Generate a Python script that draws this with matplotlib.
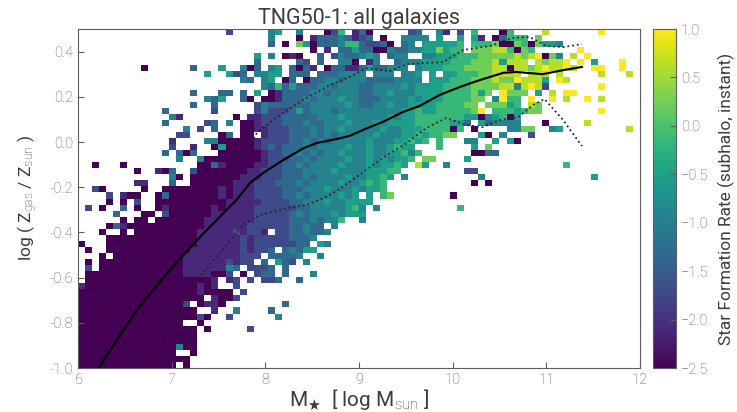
import numpy as np
import matplotlib
matplotlib.use('Agg')
import matplotlib.pyplot as plt

plt.rcParams['font.family'] = ['Roboto', 'DejaVu Sans']
plt.rcParams['font.weight'] = 'light'
plt.rcParams['mathtext.fontset'] = 'custom'
plt.rcParams['mathtext.rm'] = 'Roboto:light'
plt.rcParams['mathtext.default'] = 'rm'

# colour level of each character in the grid rows below
sfr_levels = [-2.5, -2.11, -1.72, -1.33, -0.94, -0.55, -0.16, 0.23, 0.62, 1.0]

# one string per row, top row first, '.' means no galaxies in that cell
grid_rows = [
    ".......... .......... .2.....45. .4...026.1 30.....23. .41.2.6... 06....8... ....9.....",
    ".......... .......... .......4.. .0.1333431 23.0..4444 .5..5.51.0 3666.7.... ..........",
    ".......... .......... .......3.0 .750333466 32230.34.5 55556.6667 007607554. ..........",
    ".......... .......... .......... ...0.1.335 3300433445 57566.7778 86076..... .9........",
    ".......... .......... .....5.4.0 10..3.2433 454.344..4 4555666777 778789074. 8.9.......",
    ".......... .......... .....3.... .32.3..440 .14..34445 5556667778 5888.87889 .9.5...9..",
    ".........0 ......3... 5..403.45. 3031.03311 3533444.45 5566677778 8088789889 8..99..9..",
    ".......... ........5. .523.4455. 333.333444 4.444.445. 5.55666778 888.888.8. ....8...8.",
    ".......... .......... ...43.45.0 3.03344344 433334444. 5556667778 7798885.98 ..........",
    ".......... .......... ......4363 5333443444 3344445455 5566667777 8848982... ....9.....",
    ".......... ......3... 33.3.5.013 3334434444 3344544455 556666757. 9777.5.8.9 9.........",
    ".......... ........43 5..30.0013 3343444544 3334444545 55666677.4 966.9..9.8 ..9.8.....",
    ".......... ......3..3 .....24333 3334444454 3344544555 5666677.77 756.87.... ..........",
    ".......... ..3......2 .....24222 3534443444 4444445565 56666679.6 665677.... ....9.....",
    ".......... ...41..... ..0.112223 3333444544 4444545566 6666655045 605....... ..........",
    ".......... ..3.....23 .4.0012223 3343344454 4454555566 666553.534 444...0... ..8.......",
    ".......... .....4.2.3 ...0011222 3334344544 4445445556 66606.0... .4477..45. ........8.",
    ".......... ....22.... 03.00.1222 3334343444 4454445565 6677...50. 4...2..... ..........",
    ".......... ...1....44 0000012222 3343434444 4544455656 .6...44..5 .50....... ..........",
    ".......... ...2..1..0 5000012323 3343444454 45445655.. .6....5.7. .......... ..........",
    ".......... ..3.303... 0000001223 3434344544 454455646. ......0033 .......... ..........",
    ".......... ....4..400 0000001222 3343444454 45454556.7 7....5.... .......... ..........",
    "..0...0... .......003 1000011223 3434444544 4545565.85 ..4....... .........6 ..........",
    "........0. .103..2000 0000112223 3344445444 455566.... .....22... .......... ..........",
    ".......... ...40.0000 0001112223 3343444454 45565.4... .......4.. .......... ...5......",
    "........11 ...3..0000 0011122233 3434444544 5656...... ......0.0. .......... ..........",
    "..20.....0 ..00000000 1011122223 3344454445 4556...... .......... .......... ..........",
    "....2.100. .030000000 1011122223 3434444545 .5.67..... ...0...... .......... ..........",
    "....0.0.2. .000000000 0111112222 3344454455 55........ .......... .......... ..........",
    ".2.0..3.0. .010000001 0111122222 2334444456 4.4....... ....6..... .......... ..........",
    ".....3...0 0.20000001 1111122222 3434445455 5......... .......... .......... ..........",
    "......0.00 .000000011 1111122222 33343446.. 4......... .......... .......... ..........",
    "....031000 0000000011 1111222222 33433.4... .......... .......... .......... ..........",
    "...0..0.00 0000000111 1121221.22 334334.... .......... .......... .......... ..........",
    "....000000 0000000111 1112122222 3334...... .......... .......... .......... ..........",
    "0...000000 0000000111 1112122222 233.54.... .......... .......... .......... ..........",
    ".0..000000 0000001111 11121223.3 4355...... .......... .......... .......... ..........",
    "...0.00000 0000011111 111222.333 34..4..... .......... .......... .......... ..........",
    ".0.0000000 0000011111 12122.3.53 2.4....... .......... .......... .......... ..........",
    ".2.0000000 0000011111 143.2223.3 .......... .......... .......... .......... ..........",
    ".000000000 0000011110 02.0.233.3 ...4...... .......... .......... .......... ..........",
    ".000000000 0000000001 .12.2.223. .3........ .......... .......... .......... ..........",
    "1000000000 0000000101 ..2....... .......... .......... .......... .......... ..........",
    "0000000000 0000000100 00.2...... .......... .......... .......... .......... ..........",
    "0000000000 00000000.1 002....... .......... .......... .......... .......... ..........",
    "0000000000 000002.011 0........3 .......... .......... .......... .......... ..........",
    "0000000000 0000000..1 ..4....3.. .......... .......... .......... .......... ..........",
    "0000000000 000000020. .2......4. .......... .......... .......... .......... ..........",
    "0000000000 00000..0.. .......... .......... .......... .......... .......... ..........",
    "0000000000 0000000.0. ....2..... .......... .......... .......... .......... ..........",
    "0000000000 0000000... .......... .......... .......... .......... .......... ..........",
    "0000000000 0000000... .......... .......... .......... .......... .......... ..........",
    "0000000000 0000400... .......... .......... .......... .......... .......... ..........",
    "0000000000 0000..0... .......... .......... .......... .......... .......... ..........",
    "0000000000 000000.... .......... .......... .......... .......... .......... ..........",
    "0000000000 0000.0.... .......... .......... .......... .......... .......... ..........",
]

# median and upper / lower percentile lines
median_x = [6.22, 6.45, 6.63, 6.98, 7.34, 7.69, 7.84, 7.98, 8.19, 8.41, 8.56, 8.76, 8.9, 9.08, 9.26, 9.47, 9.65, 9.86, 10.08, 10.29, 10.54, 10.68, 10.96, 11.18, 11.38]
median_y = [-1.0, -0.854, -0.743, -0.566, -0.404, -0.257, -0.18, -0.136, -0.08, -0.027, -0.003, 0.013, 0.027, 0.06, 0.09, 0.133, 0.16, 0.208, 0.244, 0.274, 0.306, 0.31, 0.30, 0.318, 0.332]
upper_x = [6.0, 6.45, 6.95, 7.39, 7.69, 7.91, 8.12, 8.4, 8.69, 8.9, 9.08, 9.33, 9.51, 9.9, 10.11, 10.4, 10.64, 10.82, 11.0, 11.18, 11.38]
upper_y = [-0.876, -0.624, -0.425, -0.248, -0.093, 0.04, 0.11, 0.186, 0.252, 0.288, 0.327, 0.314, 0.345, 0.354, 0.407, 0.425, 0.46, 0.465, 0.425, 0.42, 0.433]
lower_x = [6.68, 6.98, 7.27, 7.52, 7.76, 7.94, 8.23, 8.44, 8.69, 8.9, 9.12, 9.3, 9.51, 9.72, 9.93, 10.15, 10.32, 10.5, 10.7, 10.86, 10.98, 11.18, 11.38]
lower_y = [-1.0, -0.81, -0.61, -0.487, -0.367, -0.323, -0.292, -0.279, -0.235, -0.177, -0.11, -0.058, -0.004, 0.062, 0.106, 0.075, 0.066, 0.097, 0.11, 0.164, 0.19, 0.097, -0.018]

x_ticks = [6, 7, 8, 9, 10, 11, 12]
y_ticks = [-1.0, -0.8, -0.6, -0.4, -0.2, 0.0, 0.2, 0.4]
cbar_ticks = [-2.5, -2.0, -1.5, -1.0, -0.5, 0.0, 0.5, 1.0]

# turn the rows into a masked array
sfr = np.full((len(grid_rows), 80), np.nan)
for i, row in enumerate(grid_rows):
    for j, ch in enumerate(row.replace(' ', '')):
        if ch != '.':
            sfr[i, j] = sfr_levels[int(ch)]
sfr = np.ma.masked_invalid(sfr)

x_edges = np.linspace(6, 12, sfr.shape[1] + 1)
y_edges = np.linspace(0.5, -1.0, sfr.shape[0] + 1)

W, H = 737, 412
fig = plt.figure(figsize=(W / 100, H / 100), dpi=100)
ax = fig.add_axes([78 / W, 1 - 368 / H, (640 - 78) / W, (368 - 29) / H])
cax = fig.add_axes([653 / W, 1 - 368 / H, (676 - 653) / W, (368 - 29) / H])

gray = '#5c5c5c'
mesh = ax.pcolormesh(x_edges, y_edges, sfr, cmap='viridis', vmin=-2.5, vmax=1.0)

ax.plot(median_x, median_y, '-', color='black', lw=1.5)
ax.plot(upper_x, upper_y, ':', color='#222222', lw=1.3)
ax.plot(lower_x, lower_y, ':', color='#222222', lw=1.3)

ax.set_xlim(6, 12)
ax.set_ylim(-1.0, 0.5)
ax.set_xticks(x_ticks)
ax.set_yticks(y_ticks)
ax.set_yticklabels(['%.1f' % v if v != 0 else '0.0' for v in y_ticks])
ax.tick_params(direction='in', length=4, width=0.8, color=gray, labelcolor=gray, labelsize=10.5)
ax.set_xlabel(r'M$_\bigstar$  [ log M$_{\rm sun}$ ]', fontsize=15, color='#3c3c3c', labelpad=0)
ax.set_ylabel(r'log ( Z$_{\rm gas}$ / Z$_{\rm sun}$ )', fontsize=12.5, color='#3c3c3c', labelpad=7)
ax.set_title('TNG50-1: all galaxies', fontsize=15.5, color='#3c3c3c', pad=3)
for spine in ax.spines.values():
    spine.set_color(gray)

cb = fig.colorbar(mesh, cax=cax)
cb.set_ticks(cbar_ticks)
cb.ax.tick_params(direction='in', length=4, width=0.8, color=gray, labelcolor=gray, labelsize=10.5)
cb.set_label('Star Formation Rate (subhalo, instant)', fontsize=12.5, color='#3c3c3c', labelpad=7)
cb.outline.set_edgecolor(gray)

fig.savefig('out.png', dpi=100)
